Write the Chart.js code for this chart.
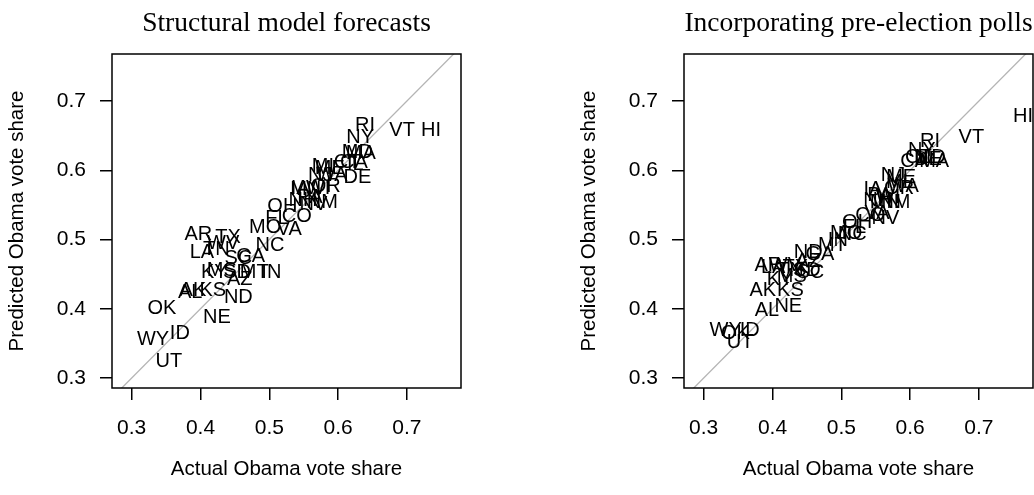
<!DOCTYPE html>
<html><head><meta charset="utf-8">
<script src="https://cdn.jsdelivr.net/npm/chart.js@4.4.1/dist/chart.umd.min.js"></script>
<style>
html,body{margin:0;padding:0;background:#fff;}
#wrap{position:relative;width:1034px;height:495px;overflow:hidden;background:#fff;}
.panel{position:absolute;top:0;width:574px;height:495px;}
</style>
</head><body>
<div id="wrap">
<div class="panel" style="left:0"><canvas id="c1" width="574" height="495"></canvas></div>
<div class="panel" style="left:572px"><canvas id="c2" width="574" height="495"></canvas></div>
</div>
<script>
const states = ["AR","TX","LA","TN","WV","KY","MS","SC","GA","SD","AZ","MT","IN","ND","AK","AL","KS","NE","OK","ID","WY","UT","MO","VA","NC","FL","CO","OH","NV","NM","NH","PA","IA","MN","WI","OR","MI","ME","NJ","WA","CT","IL","CA","DE","MD","MA","NY","RI","VT","HI"];

const actualStructural = [.397,.440,.402,.423,.433,.420,.431,.455,.473,.453,.457,.478,.503,.455,.389,.385,.418,.424,.344,.370,.331,.354,.494,.529,.501,.511,.540,.519,.564,.577,.549,.559,.545,.553,.571,.582,.578,.588,.574,.591,.613,.625,.623,.628,.628,.633,.632,.639,.693,.735];
const predStructural = [.507,.503,.482,.485,.494,.453,.455,.472,.475,.453,.443,.452,.452,.417,.426,.423,.427,.388,.401,.364,.356,.324,.518,.514,.492,.531,.533,.547,.551,.554,.557,.560,.574,.572,.573,.577,.605,.603,.592,.592,.611,.608,.611,.590,.625,.624,.648,.665,.658,.658];

const actualPolls = [.394,.433,.401,.426,.418,.411,.428,.455,.469,.450,.452,.487,.495,.452,.386,.392,.426,.423,.346,.367,.332,.353,.507,.552,.516,.519,.542,.523,.564,.578,.553,.556,.546,.564,.568,.584,.581,.587,.575,.590,.612,.623,.606,.626,.629,.635,.617,.629,.689,.764];
const predPolls = [.462,.459,.459,.455,.462,.443,.446,.453,.479,.455,.468,.491,.499,.482,.427,.398,.426,.403,.364,.369,.369,.352,.509,.537,.507,.517,.534,.525,.531,.554,.557,.563,.572,.553,.560,.574,.583,.589,.592,.577,.618,.619,.613,.615,.619,.613,.629,.641,.647,.677];

const tickValues = [0.3,0.4,0.5,0.6,0.7];
const refLine = [0.2, 0.8];
const titles = ["Structural model forecasts","Incorporating pre-election polls"];
const xTitle = "Actual Obama vote share";
const yTitle = "Predicted Obama vote share";

const SANS = '"Liberation Sans", Arial, sans-serif';
const SERIF = '"Liberation Serif", "Times New Roman", serif';

const labelPlugin = {
  id: 'stateLabels',
  afterDatasetsDraw(chart) {
    const ds = chart.data.datasets[1];
    const meta = chart.getDatasetMeta(1);
    const ctx = chart.ctx;
    ctx.save();
    ctx.font = '20px ' + SANS;
    ctx.fillStyle = '#000';
    ctx.textAlign = 'center';
    ctx.textBaseline = 'middle';
    meta.data.forEach((pt, i) => ctx.fillText(ds.labels[i], pt.x, pt.y));
    ctx.restore();
  }
};
const boxPlugin = {
  id: 'box',
  afterDraw(chart) {
    const a = chart.chartArea, ctx = chart.ctx;
    ctx.save();
    ctx.strokeStyle = '#000';
    ctx.lineWidth = 1.5;
    ctx.strokeRect(a.left, a.top, a.right - a.left, a.bottom - a.top);
    // panel title centred over the plot region
    ctx.font = '27.5px ' + SERIF;
    ctx.fillStyle = '#000';
    ctx.textAlign = 'center';
    ctx.textBaseline = 'alphabetic';
    ctx.fillText(chart.options.panelTitle, (a.left + a.right) / 2, 31);
    ctx.restore();
  }
};

function makeChart(id, title, xs, ys) {
  const pts = xs.map((x, i) => ({x: x, y: ys[i]}));
  const setTicks = s => { s.ticks = tickValues.map(v => ({value: v})); };
  return new Chart(document.getElementById(id), {
    type: 'scatter',
    data: {
      datasets: [
        {type: 'line', data: refLine.map(v => ({x: v, y: v})), borderColor: '#b4b4b4', borderWidth: 1.3, pointRadius: 0, fill: false},
        {data: pts, labels: states, pointRadius: 0, pointHoverRadius: 0}
      ]
    },
    options: {
      panelTitle: title,
      responsive: false,
      animation: false,
      devicePixelRatio: 1,
      events: [],
      layout: {padding: {left: 0, top: 54, right: 113, bottom: 0}},
      plugins: {
        legend: {display: false},
        tooltip: {enabled: false},
        title: {display: false}
      },
      scales: {
        x: {
          type: 'linear', min: 0.2714, max: 0.7786,
          afterBuildTicks: setTicks,
          afterFit: s => { s.height = 107; },
          ticks: {color: '#000', font: {family: SANS, size: 21}, padding: 16, callback: v => v.toFixed(1), maxRotation: 0},
          grid: {drawOnChartArea: false, drawTicks: true, tickLength: 12, color: '#000', lineWidth: 1.5},
          border: {display: false},
          title: {display: true, text: xTitle, color: '#000', font: {family: SANS, size: 20.5}, padding: {top: 0, bottom: 13}}
        },
        y: {
          type: 'linear', min: 0.2856, max: 0.7679,
          afterBuildTicks: setTicks,
          afterFit: s => { s.width = 112; },
          ticks: {color: '#000', font: {family: SANS, size: 21}, padding: 14, callback: v => v.toFixed(1)},
          grid: {drawOnChartArea: false, drawTicks: true, tickLength: 12, color: '#000', lineWidth: 1.5},
          border: {display: false},
          title: {display: true, text: yTitle, color: '#000', font: {family: SANS, size: 20.5}, padding: {top: 5, bottom: 0}}
        }
      }
    },
    plugins: [labelPlugin, boxPlugin]
  });
}

makeChart('c1', titles[0], actualStructural, predStructural);
makeChart('c2', titles[1], actualPolls, predPolls);
</script>
</body></html>
